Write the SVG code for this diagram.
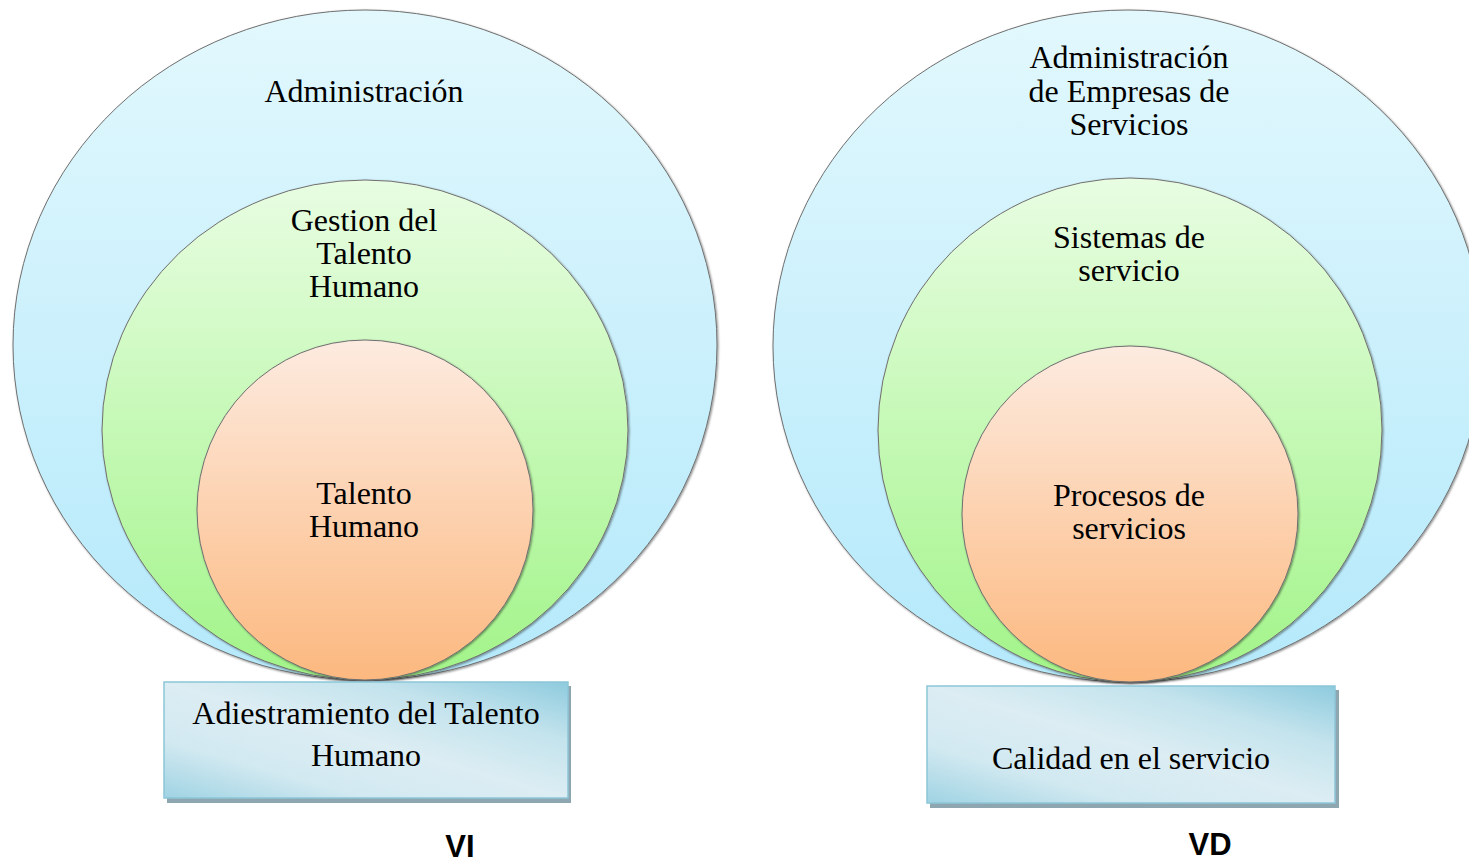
<svg xmlns="http://www.w3.org/2000/svg" width="1469" height="864" viewBox="0 0 1469 864">
<defs>
<linearGradient id="gBlue" x1="0" y1="0" x2="0" y2="1">
<stop offset="0" stop-color="#e2f8fd"/><stop offset="1" stop-color="#b4e9fb"/>
</linearGradient>
<linearGradient id="gGreen" x1="0" y1="0" x2="0" y2="1">
<stop offset="0" stop-color="#e8fde2"/><stop offset="1" stop-color="#a2f489"/>
</linearGradient>
<linearGradient id="gOrange" x1="0" y1="0" x2="0" y2="1">
<stop offset="0" stop-color="#fdebe0"/><stop offset="1" stop-color="#fcb87f"/>
</linearGradient>
<linearGradient id="gBox" x1="0" y1="1" x2="1" y2="0">
<stop offset="0" stop-color="#9fd3e3"/><stop offset="0.25" stop-color="#d2e9f1"/><stop offset="0.5" stop-color="#dcedf3"/><stop offset="0.75" stop-color="#c3e3ed"/><stop offset="1" stop-color="#8ecbde"/>
</linearGradient>
<filter id="sh" x="-5%" y="-5%" width="110%" height="110%">
<feDropShadow dx="1" dy="1" stdDeviation="1.2" flood-color="#000" flood-opacity="0.45"/>
</filter>
</defs>
<style>
.c{stroke:#707070;stroke-width:1;filter:url(#sh)}
.t{font-family:"Liberation Serif","Times New Roman",serif;font-size:32px;fill:#000;text-anchor:middle}
.b{font-family:"Liberation Sans",Arial,sans-serif;font-weight:bold;font-size:31px;fill:#000;text-anchor:middle}
.box{fill:url(#gBox);stroke:#8cc6d8;stroke-width:1.5}
.bs{fill:#8ea6b0}
</style>
<g id="vi-admin">
<ellipse class="c" cx="365" cy="345" rx="352" ry="335" fill="url(#gBlue)"/>
<text class="t" x="364" y="102">Administración</text>
</g>
<g id="vi-gestion">
<ellipse class="c" cx="365" cy="430" rx="263" ry="250" fill="url(#gGreen)"/>
<text class="t" x="364" y="231">Gestion del</text>
<text class="t" x="364" y="264">Talento</text>
<text class="t" x="364" y="297">Humano</text>
</g>
<g id="vi-talento">
<ellipse class="c" cx="365" cy="510" rx="168" ry="170" fill="url(#gOrange)"/>
<text class="t" x="364" y="504">Talento</text>
<text class="t" x="364" y="537">Humano</text>
</g>
<g id="vi-box">
<rect class="bs" x="167" y="686" width="404" height="117"/>
<rect class="box" x="164" y="682" width="404" height="116"/>
<text class="t" x="366" y="724">Adiestramiento del Talento</text>
<text class="t" x="366" y="766">Humano</text>
</g>
<g id="vd-admin">
<ellipse class="c" cx="1128" cy="346" rx="355" ry="336" fill="url(#gBlue)"/>
<text class="t" x="1129" y="68">Administración</text>
<text class="t" x="1129" y="102">de Empresas de</text>
<text class="t" x="1129" y="135">Servicios</text>
</g>
<g id="vd-sistemas">
<ellipse class="c" cx="1130" cy="430" rx="252" ry="252" fill="url(#gGreen)"/>
<text class="t" x="1129" y="248">Sistemas de</text>
<text class="t" x="1129" y="281">servicio</text>
</g>
<g id="vd-procesos">
<ellipse class="c" cx="1130" cy="514" rx="168" ry="168" fill="url(#gOrange)"/>
<text class="t" x="1129" y="506">Procesos de</text>
<text class="t" x="1129" y="539">servicios</text>
</g>
<g id="vd-box">
<rect class="bs" x="930" y="690" width="409" height="118"/>
<rect class="box" x="927" y="686" width="408" height="117"/>
<text class="t" x="1131" y="769">Calidad en el servicio</text>
</g>
<g id="labels">
<text class="b" x="460" y="857">VI</text>
<text class="b" x="1210" y="855">VD</text>
</g>
<g id="connectors"/>
</svg>
